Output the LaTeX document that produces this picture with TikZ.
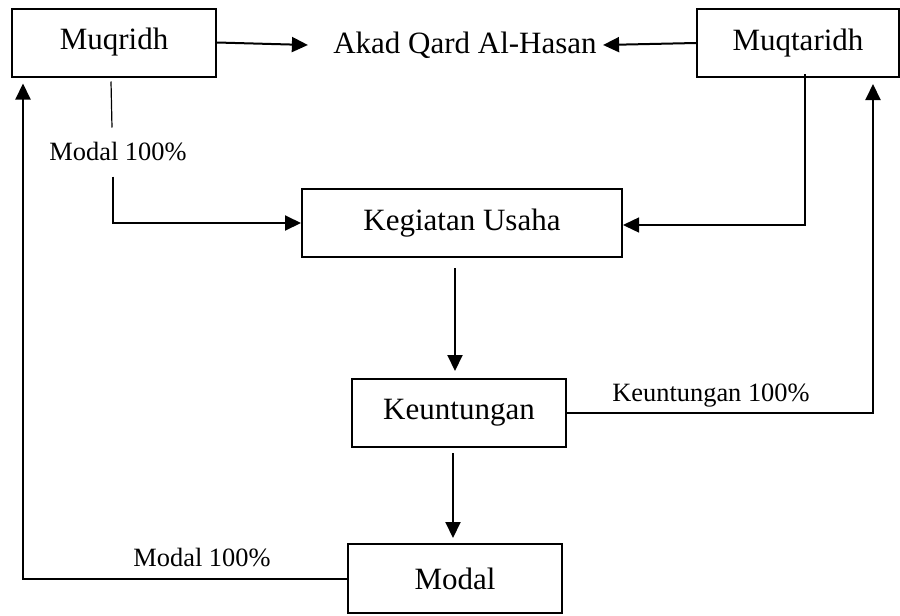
\documentclass[tikz,border=0pt]{standalone}
\usepackage{fontspec}
\setmainfont{Liberation Serif}
\usetikzlibrary{arrows.meta}

\begin{document}
\begin{tikzpicture}[x=0.5pt, y=-0.5pt,
    box/.style={draw, line width=1pt, minimum height=34pt, inner sep=0pt, font=\fontsize{15.5}{18}\selectfont},
    lbl/.style={inner sep=0pt, font=\fontsize{13.2}{15}\selectfont},
    arr/.style={line width=1pt, -{Triangle[length=8pt, width=7.5pt]}},
    thinline/.style={line width=0.6pt}]
  \useasboundingbox (0,0) rectangle (900,616);
  \node[box, minimum width=102pt] (muqridh) at (114,42.5) {Muqridh};
  \node[box, minimum width=101pt] (muqtaridh) at (798,43) {Muqtaridh};
  \node[inner sep=0pt, font=\fontsize{15.5}{18}\selectfont] (akad) at (465,45) {Akad Qard Al-Hasan};
  \node[box, minimum width=160pt] (kegiatan) at (462,223) {Kegiatan Usaha};
  \node[box, minimum width=107pt] (keuntungan) at (459,413) {Keuntungan};
  \node[box, minimum width=107pt, minimum height=34.5pt] (modal) at (455,578.5) {Modal};
  \node[lbl] (lblmodaltop) at (118,152) {Modal 100\%};
  \node[lbl] (lblkeuntungan) at (711,396) {Keuntungan 100\%};
  \node[lbl] (lblmodalbot) at (202,558) {Modal 100\%};
  \draw[arr] (muqridh.east) -- ([xshift=-12.5pt]akad.west);
  \draw[arr] (muqtaridh.west) -- ([xshift=3pt]akad.east);
  \draw[thinline] ([xshift=-1.5pt, yshift=-2pt]muqridh.south) -- ++(1,46);
  \draw[arr] ([xshift=-0.5pt, yshift=-7.5pt]muqridh.south |- lblmodaltop.south) |- (kegiatan.west);
  \draw[thinline, arr, line width=0.7pt] ([xshift=3.5pt, yshift=2pt]muqtaridh.south) |- ([yshift=-1pt]kegiatan.east);
  \draw[arr, shorten <=5pt, shorten >=3.5pt] ([xshift=-3.5pt]kegiatan.south) -- ([xshift=-2pt]keuntungan.north);
  \draw[arr, shorten <=2.5pt, shorten >=2.5pt] ([xshift=-3pt]keuntungan.south) -- ([xshift=-1pt]modal.north);
  \draw[arr, shorten >=3pt] (keuntungan.east) -| ([xshift=37.5pt]muqtaridh.south);
  \draw[arr, shorten >=3pt] (modal.west) -| ([xshift=-45.5pt]muqridh.south);
\end{tikzpicture}
\end{document}
